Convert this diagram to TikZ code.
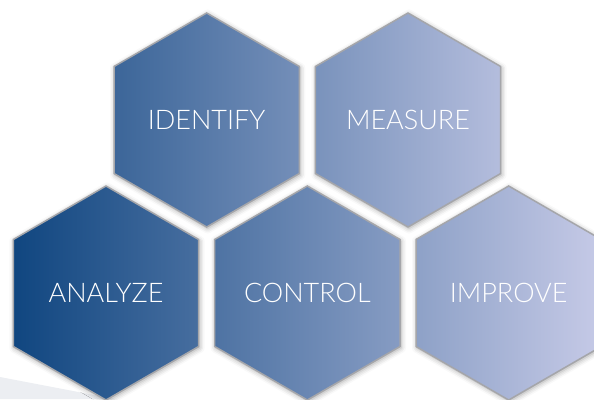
\documentclass[tikz,border=0pt]{standalone}
\usepackage{fontspec}
\setmainfont{Lato Light}
\usetikzlibrary{positioning,calc,shapes.geometric,shadows.blur}

\definecolor{hexdark}{RGB}{16,70,128}
\definecolor{hexlight}{RGB}{198,202,231}
\definecolor{hexrim}{RGB}{165,166,170}
\definecolor{floorgray}{RGB}{236,238,242}

\tikzset{
	hexa/.style={regular polygon,regular polygon sides=6,shape border rotate=30,
		minimum size=214pt,inner sep=0pt,outer sep=0pt,
		draw=hexrim,line width=1.5pt,text=white,font=\fontsize{27}{27}\selectfont,
		blur shadow={shadow xshift=1pt,shadow yshift=-1.5pt,shadow blur radius=5pt,shadow opacity=35}},
	tone/.style 2 args={left color=hexlight!#1!hexdark,right color=hexlight!#2!hexdark}
}

\begin{document}
\begin{tikzpicture}[x=1pt,y=-1pt]
	\useasboundingbox (0,0) rectangle (594,399);
	\clip (0,0) rectangle (594,399);

	% floor reflection
	\fill[floorgray] (0,377) -- (115,399) -- (0,399) -- cycle;

	\node[hexa,tone={0}{30}]							(analyze)	at (106,293) {ANALYZE};
	\node[hexa,tone={34}{65},right=16pt of analyze]	(control)	{CONTROL};
	\node[hexa,tone={69}{100},right=16pt of control]	(improve)	{IMPROVE};
	\node[hexa,tone={24}{55}]							(identify)	at ($(analyze)!.5!(control)+(0,-173)$) {IDENTIFY};
	\node[hexa,tone={58}{90},right=16pt of identify]	(measure)	{MEASURE};
\end{tikzpicture}
\end{document}
